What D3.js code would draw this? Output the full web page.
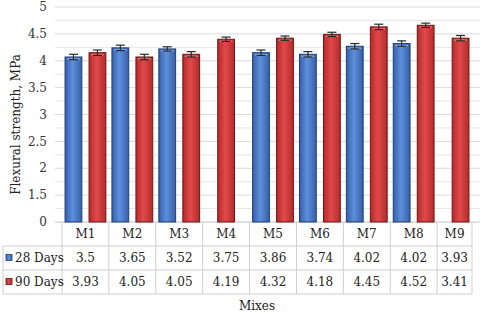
<!DOCTYPE html>
<html>
<head>
<meta charset="utf-8">
<script src="https://cdn.jsdelivr.net/npm/d3@7"></script>
<style>
  body { margin: 0; background: #fff; }
  svg { display: block; font-family: "DejaVu Serif", serif; }
</style>
</head>
<body>
<svg id="chart" width="480" height="317"></svg>
<script>
// --- DATA ---
const categories = ["M1", "M2", "M3", "M4", "M5", "M6", "M7", "M8", "M9"];
const seriesNames = ["28 Days", "90 Days"];
// bar heights as drawn (null = no bar shown)
const bars28 = [4.07, 4.24, 4.22, null, 4.15, 4.12, 4.27, 4.32, null];
const bars90 = [4.15, 4.07, 4.12, 4.40, 4.42, 4.49, 4.63, 4.66, 4.42];
const err28 = [0.05, 0.05, 0.04, null, 0.05, 0.05, 0.05, 0.05, null];
const err90 = [0.05, 0.05, 0.05, 0.04, 0.04, 0.04, 0.05, 0.04, 0.05];
// values printed in the data table
const table28 = ["3.5", "3.65", "3.52", "3.75", "3.86", "3.74", "4.02", "4.02", "3.93"];
const table90 = ["3.93", "4.05", "4.05", "4.19", "4.32", "4.18", "4.45", "4.52", "3.41"];
const yTicks = [0, 1.5, 2, 2.5, 3, 3.5, 4, 4.5, 5];
const yMinor = [0.75, 1.75, 2.25, 2.75, 3.25, 3.75, 4.25, 4.75];

// --- SETUP ---
const W = 480, H = 317;
const plot = { left: 62, right: 484, top: 7, bottom: 222 };
const tableRight = W - 8;
const rowH = 24;
const colors = {
  "28 Days": { edge: "#3560a8", mid: "#5e8fdc", stroke: "#223f73", light: "#8fb4ea" },
  "90 Days": { edge: "#b62a2a", mid: "#e04a4a", stroke: "#6e1616", light: "#f08080" }
};

const svg = d3.select("#chart");
const defs = svg.append("defs");
seriesNames.forEach((s, i) => {
  const g = defs.append("linearGradient").attr("id", "grad" + i)
    .attr("x1", "0%").attr("x2", "100%").attr("y1", "0%").attr("y2", "0%");
  g.append("stop").attr("offset", "0%").attr("stop-color", colors[s].edge);
  g.append("stop").attr("offset", "45%").attr("stop-color", colors[s].mid);
  g.append("stop").attr("offset", "100%").attr("stop-color", colors[s].edge);
});

// Scales (broken value axis: 0 -> 1.5 takes one grid step)
const x = d3.scaleBand().domain(categories).range([plot.left, plot.right]).paddingInner(0.13).paddingOuter(0.065);
const step = (plot.bottom - plot.top) / 8;
const y = d3.scaleLinear().domain([0, 1.5, 5]).range([plot.bottom, plot.bottom - step, plot.top]);
const xSub = d3.scaleBand().domain(seriesNames).range([0, x.bandwidth()]).paddingInner(0.3);

// --- GRID ---
const grid = svg.append("g");
grid.selectAll("line.minor").data(yMinor).enter().append("line")
  .attr("x1", plot.left - 7).attr("x2", W)
  .attr("y1", d => y(d)).attr("y2", d => y(d))
  .attr("stroke", "#e6e6e6").attr("stroke-width", 1);
grid.selectAll("line.major").data(yTicks).enter().append("line")
  .attr("x1", plot.left - 7).attr("x2", W)
  .attr("y1", d => y(d)).attr("y2", d => y(d))
  .attr("stroke", d => d === 0 ? "#c4c4c4" : "#dadada").attr("stroke-width", 1);

// Y axis labels
svg.append("g").selectAll("text").data(yTicks).enter().append("text")
  .attr("x", 47).attr("y", d => y(d))
  .attr("dy", "0.35em").attr("text-anchor", "end")
  .attr("font-size", 12).attr("fill", "#333")
  .text(d => d);

svg.append("text")
  .attr("transform", `translate(20,${(plot.top + plot.bottom) / 2 + 10}) rotate(-90)`)
  .attr("text-anchor", "middle").attr("font-size", 12).attr("fill", "#222")
  .text("Flexural strength, MPa");

// --- BARS ---
const groups = categories.map((c, i) => ({
  cat: c,
  items: [
    { s: seriesNames[0], idx: 0, v: bars28[i], e: err28[i] },
    { s: seriesNames[1], idx: 1, v: bars90[i], e: err90[i] }
  ].filter(d => d.v != null)
}));

const bw = xSub.bandwidth();
const gap = xSub.step() - bw;
groups.forEach(g => {
  const span = g.items.length * bw + (g.items.length - 1) * gap;
  const off = (x.bandwidth() - span) / 2;
  g.items.forEach((d, k) => { d.x = x(g.cat) + off + k * (bw + gap); });
});
const barData = groups.flatMap(g => g.items);

const barG = svg.append("g");
barG.selectAll("rect.bar").data(barData).enter().append("rect")
  .attr("x", d => d.x).attr("width", bw)
  .attr("y", d => y(d.v)).attr("height", d => y(0) - y(d.v))
  .attr("fill", d => `url(#grad${d.idx})`)
  .attr("stroke", d => colors[d.s].stroke).attr("stroke-width", 1);
barG.selectAll("line.hl").data(barData).enter().append("line")
  .attr("x1", d => d.x + 2).attr("x2", d => d.x + bw - 2)
  .attr("y1", d => y(d.v) + 2).attr("y2", d => y(d.v) + 2)
  .attr("stroke", d => colors[d.s].light).attr("stroke-width", 1.2);

// Error bars
const errG = svg.append("g").attr("stroke", "#2a2a2a").attr("stroke-width", 1.2);
barData.forEach(d => {
  const cx = d.x + bw / 2;
  const y1 = y(d.v - d.e), y2 = y(d.v + d.e);
  errG.append("line").attr("x1", cx).attr("x2", cx).attr("y1", y1).attr("y2", y2);
  errG.append("line").attr("x1", cx - 4.5).attr("x2", cx + 4.5).attr("y1", y1).attr("y2", y1);
  errG.append("line").attr("x1", cx - 4.5).attr("x2", cx + 4.5).attr("y1", y2).attr("y2", y2);
});

// --- DATA TABLE ---
const tbl = svg.append("g");
const lineCol = "#cfcfcf";
const colBounds = categories.map(c => Math.min(x(c) - x.step() * x.paddingInner() / 2, tableRight));
colBounds.push(tableRight);
const colCenter = i => (colBounds[i] + Math.min(colBounds[i + 1], tableRight)) / 2;
const rowsY = [plot.bottom, plot.bottom + rowH, plot.bottom + 2 * rowH, plot.bottom + 3 * rowH];

// horizontal lines
[1, 2, 3].forEach(r => {
  tbl.append("line").attr("x1", 3).attr("x2", tableRight)
    .attr("y1", rowsY[r]).attr("y2", rowsY[r]).attr("stroke", lineCol);
});
// vertical lines
colBounds.forEach(xb => {
  tbl.append("line").attr("x1", xb).attr("x2", xb)
    .attr("y1", rowsY[0]).attr("y2", rowsY[3]).attr("stroke", lineCol);
});
tbl.append("line").attr("x1", 3).attr("x2", 3)
  .attr("y1", rowsY[1]).attr("y2", rowsY[3]).attr("stroke", lineCol);

// header labels
tbl.selectAll("text.hdr").data(categories).enter().append("text")
  .attr("x", (d, i) => colCenter(i)).attr("y", rowsY[0] + rowH / 2)
  .attr("dy", "0.35em").attr("text-anchor", "middle")
  .attr("font-size", 12).attr("fill", "#222").text(d => d);

// value rows
[table28, table90].forEach((vals, r) => {
  const cy = rowsY[r + 1] + rowH / 2;
  tbl.selectAll("text.v" + r).data(vals).enter().append("text")
    .attr("x", (d, i) => colCenter(i)).attr("y", cy)
    .attr("dy", "0.35em").attr("text-anchor", "middle")
    .attr("font-size", 12).attr("fill", "#222").text(d => d);
  tbl.append("rect").attr("x", 6).attr("y", cy - 3.5).attr("width", 6).attr("height", 6)
    .attr("fill", `url(#grad${r})`).attr("stroke", colors[seriesNames[r]].stroke).attr("stroke-width", 0.8);
  tbl.append("text").attr("x", 15).attr("y", cy).attr("dy", "0.35em")
    .attr("font-size", 12).attr("fill", "#222").text(seriesNames[r]);
});

// X axis title
svg.append("text").attr("x", W / 2 + 17).attr("y", 310)
  .attr("text-anchor", "middle").attr("font-size", 12).attr("fill", "#222")
  .text("Mixes");
</script>
</body>
</html>
